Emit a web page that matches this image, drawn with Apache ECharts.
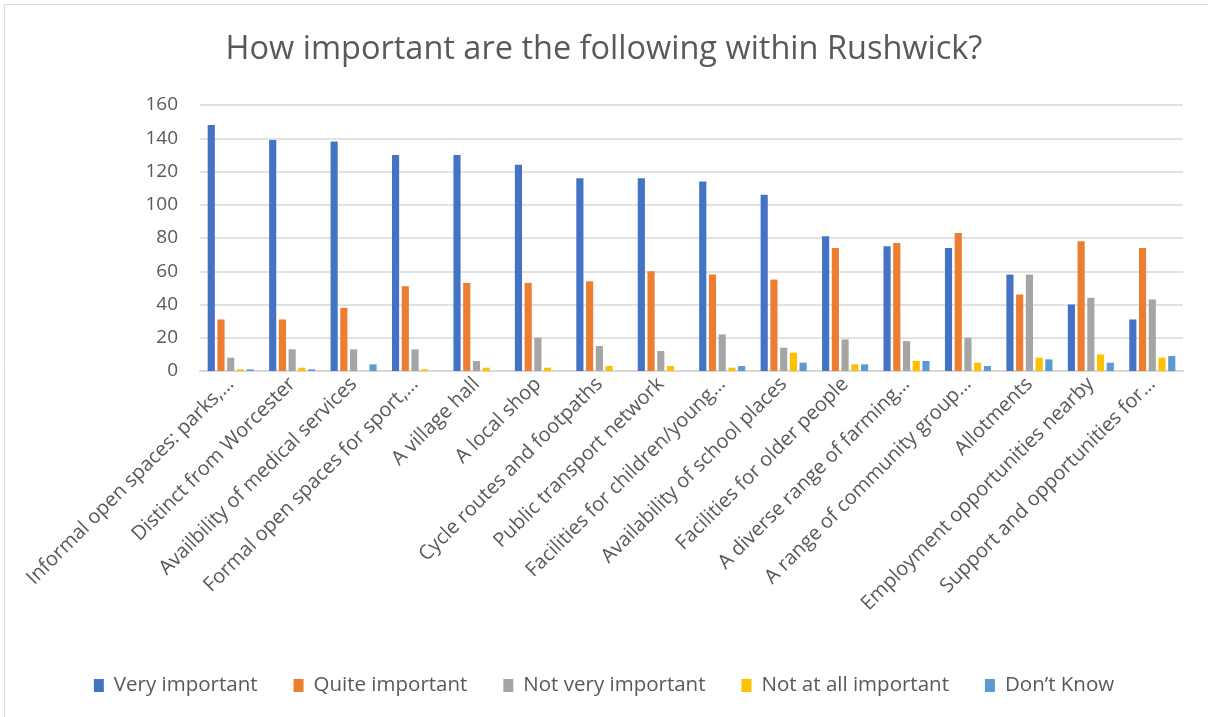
<!DOCTYPE html>
<html>
<head>
<meta charset="utf-8">
<script src="https://cdn.jsdelivr.net/npm/echarts@6/dist/echarts.min.js"></script>
<style>
html,body{margin:0;padding:0;background:#fff;}
#chart{width:1208px;height:717px;}
</style>
</head>
<body>
<div id="chart"></div>
<script>
const categories = [
  "Informal open spaces: parks,…",
  "Distinct from Worcester",
  "Availbility of medical services",
  "Formal open spaces for sport,…",
  "A village hall",
  "A local shop",
  "Cycle routes and footpaths",
  "Public transport network",
  "Facilities for children/young…",
  "Availability of school places",
  "Facilities for older people",
  "A diverse range of farming…",
  "A range of community group…",
  "Allotments",
  "Employment opportunities nearby",
  "Support and opportunities for…"
];
const yTicks = [0, 20, 40, 60, 80, 100, 120, 140, 160];
const veryImportant     = [148, 139, 138, 130, 130, 124, 116, 116, 114, 106, 81, 75, 74, 58, 40, 31];
const quiteImportant    = [31, 31, 38, 51, 53, 53, 54, 60, 58, 55, 74, 77, 83, 46, 78, 74];
const notVeryImportant  = [8, 13, 13, 13, 6, 20, 15, 12, 22, 14, 19, 18, 20, 58, 44, 43];
const notAtAllImportant = [1, 2, 0, 1, 2, 2, 3, 3, 2, 11, 4, 6, 5, 8, 10, 8];
const dontKnow          = [1, 1, 4, 0, 0, 0, 0, 0, 3, 5, 4, 6, 3, 7, 5, 9];
const seriesNames = ["Very important", "Quite important", "Not very important", "Not at all important", "Don’t Know"];
const seriesData = [veryImportant, quiteImportant, notVeryImportant, notAtAllImportant, dontKnow];
const colors = ["#4472C4", "#ED7D31", "#A5A5A5", "#FFC000", "#5B9BD5"];

const FONT = "'Open Sans', 'Liberation Sans', sans-serif";
const chart = echarts.init(document.getElementById('chart'), null, {renderer: 'canvas'});
chart.setOption({
  animation: false,
  backgroundColor: '#ffffff',
  color: colors,
  graphic: [{
    type: 'rect', silent: true, z: -10,
    shape: {x: 4.5, y: 4.5, width: 1300, height: 800},
    style: {fill: 'none', stroke: '#d9d9d9', lineWidth: 1}
  }],
  title: {
    text: 'How important are the following within Rushwick?',
    left: 'center', top: 28,
    textStyle: {fontFamily: FONT, fontSize: 32.5, fontWeight: 'normal', color: '#595959'}
  },
  legend: {
    bottom: 16, left: 'center',
    itemWidth: 10, itemHeight: 13, itemGap: 36,
    icon: 'rect',
    textStyle: {fontFamily: FONT, fontSize: 20.5, color: '#595959', padding: [0, 0, 0, 5]},
    data: seriesNames
  },
  grid: {left: 200, right: 25, top: 105, bottom: 346, containLabel: false},
  xAxis: {
    type: 'category',
    data: categories,
    axisLine: {show: true, lineStyle: {color: '#d9d9d9', width: 2}},
    axisTick: {show: false},
    axisLabel: {
      rotate: 45, interval: 0, margin: 10,
      fontFamily: FONT, fontSize: 20, color: '#595959'
    }
  },
  yAxis: {
    type: 'value', min: yTicks[0], max: yTicks[yTicks.length - 1], interval: 20,
    axisLine: {show: false}, axisTick: {show: false},
    axisLabel: {fontFamily: FONT, fontSize: 19, color: '#595959', margin: 22},
    splitLine: {lineStyle: {color: '#d9d9d9', width: 1.5}}
  },
  series: seriesNames.map((n, i) => ({
    name: n, type: 'bar', data: seriesData[i],
    barGap: '36%', barCategoryGap: '25%',
    itemStyle: {color: colors[i]}
  }))
});
</script>
</body>
</html>
